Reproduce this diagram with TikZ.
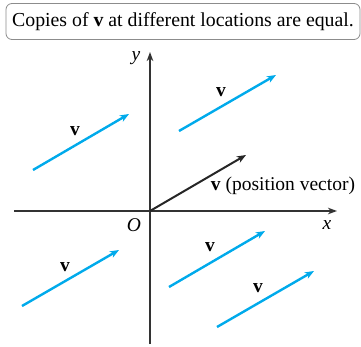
\documentclass[tikz,border=0pt]{standalone}
\usepackage{fontspec}
\setmainfont{Liberation Serif}
\usetikzlibrary{arrows.meta}
\definecolor{vblue}{RGB}{0,170,235}
\tikzset{
  vec/.style={vblue, line width=2.4pt, -{Stealth[length=9pt,width=7pt,inset=2.5pt]}},
  posvec/.style={black!85, line width=2pt, -{Stealth[length=9pt,width=7pt,inset=2.5pt]}},
  axis/.style={black!80, line width=1.4pt, -{Stealth[length=9pt,width=6.5pt,inset=2.5pt]}},
  lab/.style={font=\fontsize{19.5}{22}\selectfont, inner sep=0pt},
  title/.style={draw=black!45, line width=0.8pt, rounded corners=6pt, font=\fontsize{19.8}{22}\selectfont, minimum width=354pt, minimum height=36pt, inner sep=0pt}
}
\begin{document}
\begin{tikzpicture}[x=1pt,y=-1pt]
\useasboundingbox (0,0) rectangle (361,347);
\node[title] (t) at (183,21.5) {Copies of \textbf{v} at different locations are equal.};
% axes
\coordinate (xl) at (14,211);
\coordinate (xr) at (337,211);
\coordinate (yb) at (150,344);
\coordinate (yt) at (150,52);
\coordinate (o) at (150,211);
\draw[axis] (xl) -- (xr);
\draw[axis] (yb) -- (yt);
\node[lab] (ylab) at (136,58) {\textit{y}};
\node[lab] (xlab) at (327,225) {\textit{x}};
\node[lab] (olab) at (134,225) {\textit{O}};
% position vector
\coordinate (p1) at (246,155);
\draw[posvec] (o) -- (p1);
\node[lab] (plab) at (283,186) {\textbf{v} (position vector)};
% copies
\coordinate (a0) at (33,170); \coordinate (a1) at (129,114);
\coordinate (b0) at (179,131); \coordinate (b1) at (276,75);
\coordinate (c0) at (22,306); \coordinate (c1) at (119,250);
\coordinate (d0) at (169,287); \coordinate (d1) at (265,231);
\coordinate (e0) at (217,327); \coordinate (e1) at (314,271);
\draw[vec] (a0) -- (a1);
\draw[vec] (b0) -- (b1);
\draw[vec] (c0) -- (c1);
\draw[vec] (d0) -- (d1);
\draw[vec] (e0) -- (e1);
\node[lab] (la) at (75,131) {\textbf{v}};
\node[lab] (lb) at (221,92) {\textbf{v}};
\node[lab] (lc) at (65,267) {\textbf{v}};
\node[lab] (ld) at (210,247) {\textbf{v}};
\node[lab] (le) at (258,288) {\textbf{v}};
\end{tikzpicture}
\end{document}
